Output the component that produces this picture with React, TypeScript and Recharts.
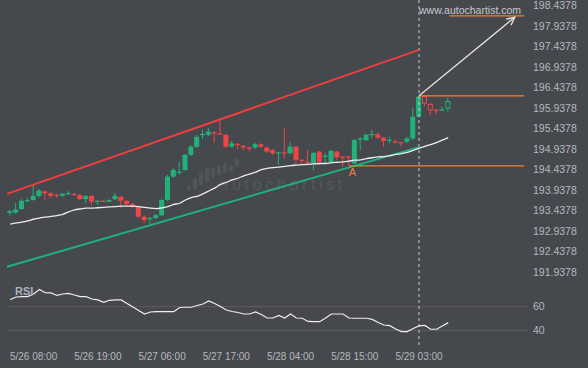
import { ComposedChart, Bar, Line, XAxis, YAxis, ReferenceLine, ReferenceDot } from 'recharts';

const BG = '#45484d';
const GREEN = '#21b27c';
const RED = '#f04545';
const ORANGE = '#f47c38';
const AXIS_TEXT = '#b5b9be';
const FONT = '"Liberation Sans", Arial, sans-serif';

// time axis: candle index -> label
const timeTicks = [4, 15, 26, 37, 48, 59, 70];
const timeLabels = ['5/26 08:00', '5/26 19:00', '5/27 06:00', '5/27 17:00', '5/28 04:00', '5/28 15:00', '5/29 03:00'];

const priceTicks = [
  198.4378, 197.9378, 197.4378, 196.9378, 196.4378, 195.9378, 195.4378,
  194.9378, 194.4378, 193.9378, 193.4378, 192.9378, 192.4378, 191.9378,
];
const rsiTicks = [60, 40];

// hourly candles
const opens = [
  193.36, 193.36, 193.45, 193.66, 193.67, 193.77, 193.88, 193.83, 193.8, 193.77,
  193.83, 193.82, 193.79, 193.69, 193.77, 193.63, 193.65, 193.63, 193.69, 193.75,
  193.65, 193.57, 193.5, 193.26, 193.22, 193.23, 193.3, 193.67, 194.24, 194.35,
  194.4, 194.77, 194.97, 195.27, 195.26, 195.32, 195.29, 195.26, 194.97, 195.04,
  194.99, 194.95, 194.95, 195.03, 194.95, 194.89, 194.81, 194.83, 194.81, 194.97,
  194.65, 194.6, 194.56, 194.85, 194.74, 194.6, 194.85, 194.73, 194.73, 194.56,
  195.16, 195.13, 195.26, 195.27, 195.19, 195.13, 195.1, 195.08, 195.09, 195.17,
  195.7, 196.19, 196.0, 195.87, 195.87, 195.91,
];
const highs = [
  193.43, 193.6, 193.69, 193.73, 194.04, 193.94, 193.91, 193.87, 193.82, 193.84,
  193.9, 193.84, 193.82, 193.79, 193.79, 193.67, 193.67, 193.69, 193.84, 193.77,
  193.67, 193.6, 193.52, 193.3, 193.26, 193.33, 193.69, 194.28, 194.45, 194.6,
  194.79, 195.01, 195.26, 195.38, 195.43, 195.35, 195.6, 195.28, 195.11, 195.06,
  195.01, 194.97, 195.06, 195.06, 194.97, 194.91, 194.84, 195.43, 195.08, 194.99,
  194.67, 194.89, 194.84, 194.87, 194.82, 194.89, 194.87, 194.74, 194.75, 195.16,
  195.21, 195.28, 195.38, 195.33, 195.21, 195.21, 195.13, 195.09, 195.21, 195.91,
  196.21, 196.23, 196.03, 195.89, 195.95, 196.16,
];
const lows = [
  193.29, 193.34, 193.43, 193.61, 193.65, 193.74, 193.67, 193.72, 193.72, 193.74,
  193.79, 193.77, 193.67, 193.59, 193.55, 193.55, 193.62, 193.62, 193.67, 193.47,
  193.52, 193.47, 193.23, 193.11, 193.08, 193.21, 193.28, 193.65, 194.21, 194.28,
  194.38, 194.74, 194.94, 195.16, 195.23, 195.06, 195.26, 194.94, 194.94, 194.91,
  194.89, 194.86, 194.91, 194.94, 194.82, 194.77, 194.52, 194.67, 194.79, 194.55,
  194.56, 194.52, 194.4, 194.52, 194.57, 194.57, 194.65, 194.48, 194.52, 194.55,
  194.89, 195.11, 195.18, 195.17, 194.97, 195.05, 195.04, 194.97, 195.05, 195.13,
  195.69, 195.95, 195.74, 195.76, 195.84, 195.82,
];
const closes = [
  193.4, 193.44, 193.65, 193.67, 193.77, 193.9, 193.83, 193.77, 193.78, 193.82,
  193.84, 193.8, 193.69, 193.77, 193.63, 193.65, 193.63, 193.67, 193.77, 193.65,
  193.57, 193.5, 193.26, 193.18, 193.23, 193.3, 193.67, 194.24, 194.4, 194.36,
  194.77, 194.97, 195.21, 195.28, 195.34, 195.3, 195.28, 194.97, 195.05, 195.01,
  194.95, 194.94, 195.03, 194.97, 194.85, 194.81, 194.83, 194.81, 194.97, 194.65,
  194.63, 194.57, 194.82, 194.6, 194.75, 194.87, 194.71, 194.72, 194.72, 195.13,
  195.17, 195.26, 195.28, 195.19, 195.11, 195.14, 195.09, 195.07, 195.17, 195.7,
  196.19, 196.03, 195.87, 195.86, 195.88, 196.07,
];
// candles drawn as outline only (after the breakout)
const hollowCandles = [71, 72, 75];

// moving average
const maValues = [
  193.08, 193.11, 193.13, 193.16, 193.2, 193.23, 193.25, 193.27, 193.29, 193.32,
  193.38, 193.43, 193.45, 193.47, 193.47, 193.48, 193.49, 193.5, 193.51, 193.52,
  193.52, 193.52, 193.51, 193.49, 193.47, 193.46, 193.48, 193.51, 193.56, 193.59,
  193.67, 193.73, 193.76, 193.82, 193.89, 193.96, 194.05, 194.1, 194.16, 194.2,
  194.26, 194.3, 194.35, 194.41, 194.44, 194.46, 194.47, 194.49, 194.51, 194.52,
  194.53, 194.54, 194.55, 194.56, 194.56, 194.58, 194.59, 194.6, 194.62, 194.64,
  194.65, 194.68, 194.7, 194.72, 194.73, 194.75, 194.78, 194.8, 194.83, 194.88,
  194.93, 194.98, 195.02, 195.07, 195.13, 195.19,
];

const rsiValues = [
  66.1, 68.2, 68.5, 68.5, 70.7, 74.5, 71.8, 71.6, 69.5, 70.7,
  71.3, 69.9, 68.5, 68.5, 66.5, 65.7, 63.6, 65.4, 65.7, 65.7,
  62.7, 59.7, 56.8, 53.8, 55.5, 55.8, 55.8, 55.8, 55.8, 59.3,
  59.5, 59.5, 61.0, 62.3, 64.8, 62.7, 60.2, 57.2, 55.9, 55.1,
  53.8, 53.8, 55.5, 53.4, 50.4, 50.4, 52.6, 50.4, 53.8, 50.4,
  50.2, 47.5, 47.3, 47.3, 50.4, 53.8, 53.8, 53.8, 50.4, 50.2,
  50.2, 50.2, 49.2, 46.6, 44.5, 43.9, 41.1, 38.9, 38.9, 41.6,
  43.7, 44.1, 40.9, 40.9, 43.7, 46.5,
];

// pattern lines (x = candle index, y = price)
const resistanceLine = [{ x: -0.55, y: 193.82 }, { x: 70, y: 197.33 }];
const supportLine = [{ x: -0.55, y: 192.04 }, { x: 70, y: 194.96 }];
const breakoutLevel = [{ x: 70, y: 196.21 }, { x: 88, y: 196.21 }];
const targetLevel = [{ x: 75.2, y: 198.16 }, { x: 88, y: 198.16 }];
const lowerLevel = [{ x: 58, y: 194.5 }, { x: 88, y: 194.5 }];
const forecastArrow = [{ x: 70, y: 196.21 }, { x: 86.4, y: 198.13 }];
const pointA = { x: 58.6, y: 194.5 };
const breakoutIndex = 70;

const X_DOMAIN: [number, number] = [-0.55, 88.66];

const rows = opens.map((o, i) => ({
  i,
  o,
  h: highs[i],
  l: lows[i],
  c: closes[i],
  ma: maValues[i],
  rsi: rsiValues[i],
}));

function Candle(props: any) {
  const { x, y, width, height, payload } = props;
  const { o, h, l, c, i } = payload;
  const span = h - l || 1;
  const toY = (v: number) => y + ((h - v) / span) * height;
  const up = c >= o;
  const color = up ? GREEN : RED;
  const hollow = hollowCandles.includes(i);
  const top = toY(Math.max(o, c));
  const bodyH = Math.max(toY(Math.min(o, c)) - top, 1.2);
  const cx = x + width / 2;
  return (
    <g>
      <line x1={cx} x2={cx} y1={y} y2={y + height} stroke={color} strokeWidth={1} />
      {hollow ? (
        <rect x={x + 0.5} y={top} width={width - 1} height={bodyH} fill={BG} stroke={color} strokeWidth={1} />
      ) : (
        <rect x={x} y={top} width={width} height={bodyH} fill={color} />
      )}
    </g>
  );
}

function ArrowShape(props: any) {
  const { x1, y1, x2, y2, stroke } = props;
  const a = Math.atan2(y2 - y1, x2 - x1);
  const len = 9;
  const spread = 0.45;
  const ax = x2 - len * Math.cos(a - spread);
  const ay = y2 - len * Math.sin(a - spread);
  const bx = x2 - len * Math.cos(a + spread);
  const by = y2 - len * Math.sin(a + spread);
  return (
    <g>
      <line x1={x1} y1={y1} x2={x2} y2={y2} stroke={stroke} strokeWidth={1.3} />
      <polyline points={`${ax},${ay} ${x2},${y2} ${bx},${by}`} fill="none" stroke={stroke} strokeWidth={1.3} />
    </g>
  );
}

const watermarkBars = [
  [187, 185, 5], [193, 178, 12], [199, 172, 14], [205, 167, 15],
  [211, 168, 10], [217, 165, 10], [223, 163, 10], [229, 165, 7], [235, 158, 9],
];

export default function App() {
  return (
    <div
      style={{
        position: 'fixed',
        left: 0,
        top: 0,
        width: 588,
        height: 368,
        background: BG,
        fontFamily: FONT,
        overflow: 'hidden',
      }}
    >
      {/* watermark */}
      {watermarkBars.map(([x, y, h], k) => (
        <div
          key={k}
          style={{ position: 'absolute', left: x, top: y, width: 4, height: h, borderRadius: 2, background: '#515459' }}
        />
      ))}
      <div
        style={{
          position: 'absolute',
          left: 219,
          top: 175,
          fontSize: 17,
          letterSpacing: 3.2,
          color: '#54575c',
          lineHeight: '20px',
        }}
      >
        autochartist
      </div>

      <ComposedChart
        width={588}
        height={285}
        data={rows}
        margin={{ top: 0, right: 0, bottom: 0, left: 7 }}
        style={{ position: 'absolute', left: 0, top: 0 }}
      >
        <XAxis type="number" dataKey="i" domain={X_DOMAIN} hide allowDataOverflow />
        <YAxis
          orientation="right"
          type="number"
          domain={[191.5964, 198.5476]}
          ticks={priceTicks}
          interval={0}
          width={60}
          axisLine={false}
          tickLine={false}
          tickSize={0}
          tickMargin={5}
          tickFormatter={(v: number) => v.toFixed(4)}
          tick={{ fill: AXIS_TEXT, fontSize: 10.5, fontFamily: FONT, dy: 1.2 }}
          allowDataOverflow
        />
        <ReferenceLine x={breakoutIndex} stroke="#c9ccd0" strokeDasharray="3 3" ifOverflow="visible" />
        <ReferenceLine segment={resistanceLine} stroke="#ee3f3c" strokeWidth={2} ifOverflow="visible" />
        <ReferenceLine segment={supportLine} stroke="#1fb07f" strokeWidth={2} ifOverflow="visible" />
        <ReferenceLine segment={breakoutLevel} stroke={ORANGE} strokeWidth={1.3} ifOverflow="visible" />
        <ReferenceLine segment={targetLevel} stroke={ORANGE} strokeWidth={1.3} ifOverflow="visible" />
        <ReferenceLine segment={lowerLevel} stroke={ORANGE} strokeWidth={1.3} ifOverflow="visible" />
        <ReferenceLine segment={forecastArrow} stroke="#e4e4e4" shape={ArrowShape} ifOverflow="visible" />
        <Line
          dataKey="ma"
          type="monotone"
          stroke="#ececec"
          strokeWidth={1.3}
          dot={false}
          isAnimationActive={false}
        />
        <Bar
          dataKey={(d: any) => [d.l, d.h]}
          barSize={5}
          shape={Candle}
          isAnimationActive={false}
        />
        <ReferenceDot
          x={pointA.x}
          y={pointA.y}
          r={0}
          ifOverflow="visible"
          label={{ value: 'A', position: 'bottom', fill: ORANGE, fontSize: 11, fontFamily: FONT, offset: 2 }}
        />
      </ComposedChart>

      <div
        style={{
          position: 'absolute',
          left: 419,
          top: 4,
          fontSize: 10.5,
          lineHeight: '12px',
          color: '#c6c9cd',
        }}
      >
        www.autochartist.com
      </div>

      <ComposedChart
        width={588}
        height={83}
        data={rows}
        margin={{ top: 0, right: 0, bottom: 0, left: 7 }}
        style={{ position: 'absolute', left: 0, top: 285 }}
      >
        <XAxis
          type="number"
          dataKey="i"
          domain={X_DOMAIN}
          ticks={timeTicks}
          interval={0}
          height={23}
          axisLine={false}
          tickLine={false}
          tickSize={0}
          tickMargin={8}
          tickFormatter={(v: number) => timeLabels[timeTicks.indexOf(v)] ?? ''}
          tick={{ fill: AXIS_TEXT, fontSize: 10, fontFamily: FONT }}
          allowDataOverflow
        />
        <YAxis
          orientation="right"
          type="number"
          domain={[27.57, 78.34]}
          ticks={rsiTicks}
          interval={0}
          width={60}
          axisLine={false}
          tickLine={false}
          tickSize={0}
          tickMargin={5}
          tick={{ fill: AXIS_TEXT, fontSize: 10.5, fontFamily: FONT }}
          allowDataOverflow
        />
        <ReferenceLine y={60} stroke="#5c5f64" />
        <ReferenceLine y={40} stroke="#5c5f64" />
        <ReferenceLine x={breakoutIndex} stroke="#c9ccd0" strokeDasharray="3 3" ifOverflow="visible" />
        <Line
          dataKey="rsi"
          type="linear"
          stroke="#eeeeee"
          strokeWidth={1.2}
          dot={false}
          isAnimationActive={false}
        />
      </ComposedChart>

      <div
        style={{
          position: 'absolute',
          left: 15,
          top: 285,
          fontSize: 11,
          fontWeight: 'bold',
          lineHeight: '12px',
          color: '#aeb2b8',
        }}
      >
        RSI
      </div>
    </div>
  );
}
